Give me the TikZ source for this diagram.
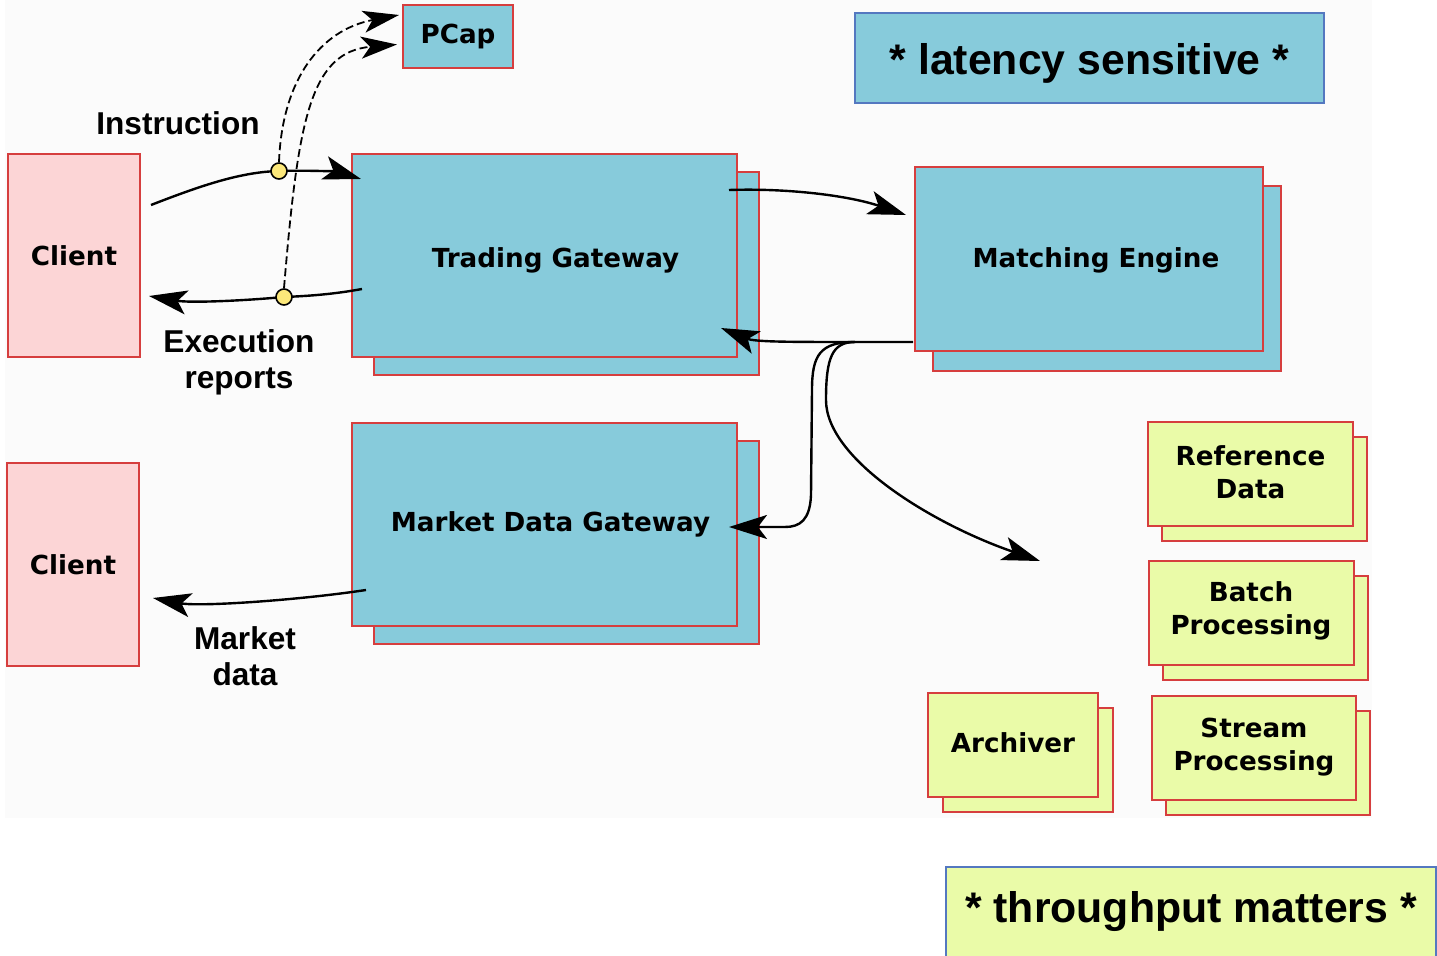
\documentclass[tikz,border=0pt]{standalone}
\usepackage{fontspec}
\setmainfont{DejaVu Sans}
\newfontfamily\arialfont{Liberation Sans}
\usetikzlibrary{arrows.meta,calc}

\definecolor{latblue}{RGB}{135,203,219}
\definecolor{clientpink}{RGB}{252,213,214}
\definecolor{tputyellow}{RGB}{234,251,168}
\definecolor{edgered}{RGB}{214,62,62}
\definecolor{noteblue}{RGB}{84,120,192}
\definecolor{tapyellow}{RGB}{252,232,122}
\definecolor{canvas}{RGB}{251,251,251}

\pgfdeclarelayer{front}
\pgfsetlayers{main,front}

\tikzset{
  box/.style={draw=edgered, line width=1pt, inner sep=0pt, align=center,
    font=\bfseries\fontsize{13.1}{16.5}\selectfont},
  lat/.style={box, fill=latblue},
  thr/.style={box, fill=tputyellow},
  cli/.style={box, fill=clientpink},
  stacktext/.style={font=\bfseries\fontsize{13.1}{16.5}\selectfont, inner sep=0pt, align=center},
  flowlabel/.style={font=\arialfont\bfseries\fontsize{15.8}{18}\selectfont, align=center, inner sep=0pt},
  note/.style={draw=noteblue, line width=0.6pt, inner sep=0pt,
    font=\arialfont\bfseries\fontsize{21.4}{24}\selectfont},
  link/.style={line width=1.2pt, -{Stealth[length=19pt,width=12pt,inset=4.5pt]}},
  tap/.style={line width=0.9pt, dash pattern=on 4pt off 2pt,
    -{Stealth[length=18pt,width=11pt,inset=4.5pt]}},
  dot/.style={circle, draw=black, line width=0.8pt, fill=tapyellow,
    minimum size=8pt, inner sep=0pt},
}

\begin{document}
\begin{tikzpicture}[x=0.5pt,y=-0.5pt]
\useasboundingbox (0,0) rectangle (1437,956);
\fill[canvas] (5,0) rectangle (1372,818);

% clients
\node[cli, minimum width=66pt, minimum height=101.5pt] (c1) at (74,255.5) {Client};
\node[cli, minimum width=66pt, minimum height=101.5pt] (c2) at (73,564.5) {Client};

% packet capture
\node[lat, minimum width=55pt, minimum height=31.5pt] (pcap) at (458,36.5) {PCap};

% trading gateway (stacked)
\node[lat, minimum width=192.5pt, minimum height=101.5pt] (tgb) at (566.5,273.5) {};
\node[lat, minimum width=192.5pt, minimum height=101.5pt,
  label={[stacktext, xshift=5.5pt, yshift=-2.2pt]center:Trading Gateway}] (tg) at (544.5,255.5) {};

% market data gateway (stacked)
\node[lat, minimum width=192.5pt, minimum height=101.5pt] (mdgb) at (566.5,542.5) {};
\node[lat, minimum width=192.5pt, minimum height=101.5pt,
  label={[stacktext, xshift=3pt, yshift=0pt]center:Market Data Gateway}] (mdg) at (544.5,524.5) {};

% matching engine (stacked)
\node[lat, minimum width=174pt, minimum height=92.5pt] (meb) at (1107,278.5) {};
\node[lat, minimum width=174pt, minimum height=92pt,
  label={[stacktext, xshift=3.5pt, yshift=-0.5pt]center:Matching Engine}] (me) at (1089,259) {};

% throughput services (stacked)
\node[thr, minimum width=102.5pt, minimum height=52pt] (refb) at (1264.5,489.5) {};
\node[thr, minimum width=102.5pt, minimum height=52pt,
  label={[stacktext, yshift=1pt]center:Reference\\Data}] (ref) at (1250.5,474) {};
\node[thr, minimum width=102.5pt, minimum height=52pt] (batchb) at (1265.5,628.5) {};
\node[thr, minimum width=102.5pt, minimum height=52pt,
  label={[stacktext, yshift=1pt]center:Batch\\Processing}] (batch) at (1251,613) {};
\node[thr, minimum width=85pt, minimum height=52pt] (archb) at (1028,760) {};
\node[thr, minimum width=85pt, minimum height=52pt,
  label={[stacktext, yshift=1pt]center:Archiver}] (arch) at (1013,745) {};
\node[thr, minimum width=102pt, minimum height=52pt] (streamb) at (1268,763.5) {};
\node[thr, minimum width=102pt, minimum height=52pt,
  label={[stacktext, yshift=0.5pt]center:Stream\\Processing}] (stream) at (1254,748) {};

% notes
\node[note, fill=latblue, minimum width=234.5pt, minimum height=45pt,
  text height=17pt, text depth=0pt] (latnote) at (1089.5,58) {* latency sensitive *};
\node[note, fill=tputyellow, minimum width=245pt, minimum height=45pt] (thrnote) at (1191,912) {* throughput matters *};

% flow labels
\node[flowlabel] (instr) at (178,123) {Instruction};
\node[flowlabel] (exec) at (239,362) {Execution\\reports};
\node[flowlabel] (mkt) at (245,656) {Market\\data};

% tap points
\begin{pgfonlayer}{front}
  \node[dot] (d1) at (279,171) {};
  \node[dot] (d2) at (284,297) {};
\end{pgfonlayer}

\coordinate (fan) at (855,342);
\coordinate (bus) at (1040,561);

% order flow
\draw[link] ($(c1.east)+(10,-50.5)$) .. controls (200,186) and (240,172) .. (d1.center)
  .. controls (310,170) and (338,172) .. ($(tg.north west)+(10,26)$);
\draw[link] ($(tg.west)+(11,33.5)$) .. controls (335,294) and (310,296) .. (d2.center)
  .. controls (240,301) and (190,303) .. ($(c1.east)+(8,40.5)$);

% captured copies
\draw[tap] (d1.north) .. controls (282,80) and (320,30) .. ($(pcap.west)+(-3,-21.5)$);
\draw[tap] (d2.north) .. controls (298,120) and (310,52) .. ($(pcap.west)+(-5,8)$);

% gateway <-> matching engine
\draw[link] ($(tg.north east)+(-9,37)$) .. controls (790,188) and (850,196) .. ($(me.north west)+(-8,49)$);
\draw[link] ($(me.south west)+(-1,-10)$) -- (fan) .. controls (790,342) and (755,342) .. ($(tg.south east)+(-17,-30)$);
\draw[link] (fan) .. controls (820,342) and (812,355) .. (812,390) -- (811,495)
  .. controls (810,520) and (800,527) .. (785,527) -- ($(mdg.east)+(-9,2.5)$);
\draw[link] (fan) .. controls (832,342) and (826,358) .. (826,400)
  .. controls (826,460) and (935,525) .. (bus);

% market data to client
\draw[link] ($(mdg.west)+(15,65.5)$) .. controls (300,600) and (200,607) .. ($(c2.east)+(13,33.5)$);
\end{tikzpicture}
\end{document}
